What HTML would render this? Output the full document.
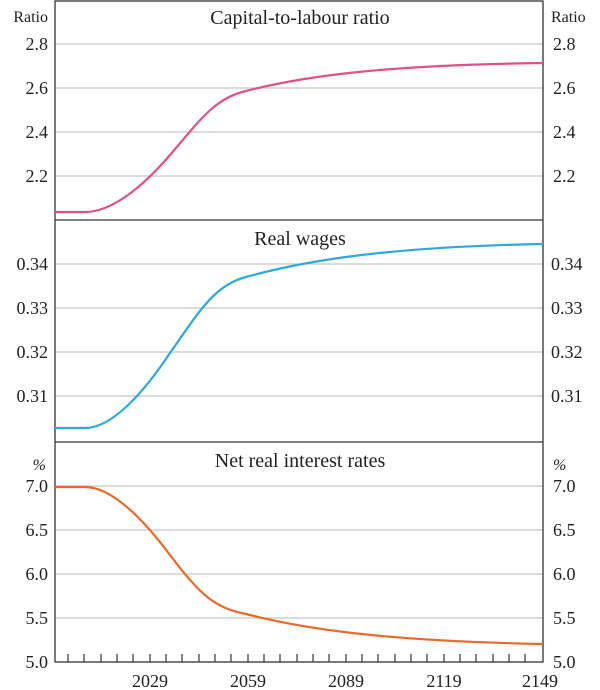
<!DOCTYPE html>
<html><head><meta charset="utf-8"><style>body{margin:0;background:#fff}svg{display:block}</style></head><body>
<svg width="600" height="690" xmlns="http://www.w3.org/2000/svg" font-family="Liberation Serif, serif" fill="#222">
<g stroke="#c8c8c8" stroke-width="1.2">
<line x1="55" x2="543" y1="44" y2="44"/><line x1="55" x2="543" y1="88" y2="88"/><line x1="55" x2="543" y1="132" y2="132"/><line x1="55" x2="543" y1="176" y2="176"/>
<line x1="55" x2="543" y1="264" y2="264"/><line x1="55" x2="543" y1="308" y2="308"/><line x1="55" x2="543" y1="352" y2="352"/><line x1="55" x2="543" y1="396" y2="396"/>
<line x1="55" x2="543" y1="486" y2="486"/><line x1="55" x2="543" y1="530" y2="530"/><line x1="55" x2="543" y1="574" y2="574"/><line x1="55" x2="543" y1="618" y2="618"/>
</g>
<g stroke="#333" stroke-width="1.3" fill="none">
<rect x="55" y="1" width="488" height="661"/>
<line x1="55" x2="543" y1="220" y2="220"/><line x1="55" x2="543" y1="442" y2="442"/>
</g>
<g stroke="#333" stroke-width="1.2">
<path d="M68 662v-8M84 662v-8M101 662v-8M117 662v-8M133 662v-8M150 662v-8M166 662v-8M182 662v-8M199 662v-8M215 662v-8M231 662v-8M248 662v-8M264 662v-8M280 662v-8M297 662v-8M313 662v-8M329 662v-8M346 662v-8M362 662v-8M378 662v-8M395 662v-8M411 662v-8M427 662v-8M444 662v-8M460 662v-8M476 662v-8M493 662v-8M509 662v-8M525 662v-8"/>
</g>
<g fill="none" stroke-width="2.2" stroke-linejoin="round">
<path stroke="#e0508a" d="M55 212 L85 212 C110 212 140 190 170 155 C200 120 215 98 246 91 C300 77 380 65 543 63"/>
<path stroke="#2fa8dc" d="M55 428 L85 428 C110 428 140 398 170 353 C200 310 215 285 246 277 C300 262 380 247 543 244"/>
<path stroke="#e8692a" d="M55 487 L85 487 C110 487 140 515 170 555 C200 595 215 608 246 614 C300 628 380 641 543 644"/>
</g>
<g font-size="20" text-anchor="middle">
<text x="300" y="24">Capital-to-labour ratio</text>
<text x="300" y="245">Real wages</text>
<text x="300" y="467">Net real interest rates</text>
</g>
<g font-size="18" text-anchor="end">
<text x="48" y="22" font-size="16">Ratio</text>
<text x="48" y="50">2.8</text><text x="48" y="94">2.6</text><text x="48" y="138">2.4</text><text x="48" y="182">2.2</text>
<text x="48" y="270">0.34</text><text x="48" y="314">0.33</text><text x="48" y="358">0.32</text><text x="48" y="402">0.31</text>
<text x="46" y="470" font-style="italic" font-size="16">%</text>
<text x="48" y="492">7.0</text><text x="48" y="536">6.5</text><text x="48" y="580">6.0</text><text x="48" y="624">5.5</text><text x="48" y="668">5.0</text>
</g>
<g font-size="18" text-anchor="start">
<text x="551" y="22" font-size="16">Ratio</text>
<text x="553" y="50">2.8</text><text x="553" y="94">2.6</text><text x="553" y="138">2.4</text><text x="553" y="182">2.2</text>
<text x="551" y="270">0.34</text><text x="551" y="314">0.33</text><text x="551" y="358">0.32</text><text x="551" y="402">0.31</text>
<text x="553" y="470" font-style="italic" font-size="16">%</text>
<text x="553" y="492">7.0</text><text x="553" y="536">6.5</text><text x="553" y="580">6.0</text><text x="553" y="624">5.5</text><text x="553" y="668">5.0</text>
</g>
<g font-size="18" text-anchor="middle">
<text x="150" y="687">2029</text><text x="248" y="687">2059</text><text x="346" y="687">2089</text><text x="444" y="687">2119</text><text x="540" y="687">2149</text>
</g>
</svg>
</body></html>
